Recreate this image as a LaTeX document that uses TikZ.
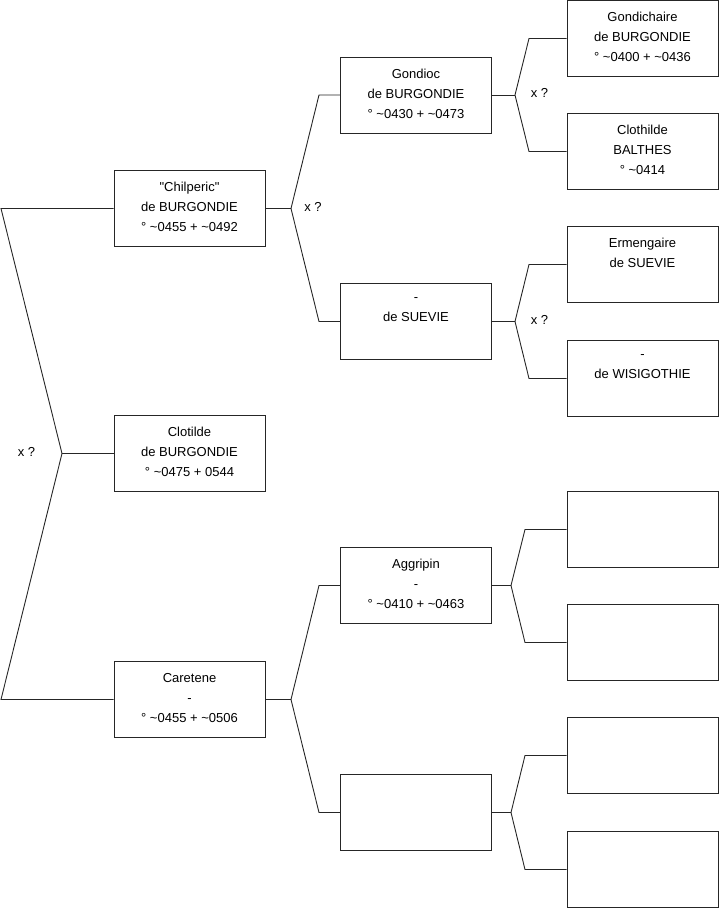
\documentclass[tikz,border=0pt]{standalone}
\usepackage{fontspec}
\setmainfont{Liberation Sans}[Ligatures=TeXOff]
\newcommand{\tl}{\textasciitilde}
\tikzset{
  person/.style={draw=black!85, line width=0.9pt, minimum width=151pt, minimum height=76pt,
    inner sep=0pt, align=center, font=\fontsize{13}{20}\selectfont, fill=white,
    execute at begin node={\rule{0pt}{10pt}}, execute at end node={\rule[-3pt]{0pt}{3pt}}},
  link/.style={draw=black!85, line width=0.9pt},
  marr/.style={inner sep=0pt, font=\fontsize{13}{15}\selectfont}
}
\begin{document}
\begin{tikzpicture}[x=1pt,y=-1pt]
\useasboundingbox (0,0) rectangle (719,908);
% column 1
\node[person] (chil) at (189.5,208.5) {"Chilperic"\\de BURGONDIE\\° \tl0455 + \tl0492};
\node[person] (clot) at (189.5,453.5) {Clotilde\\de BURGONDIE\\° \tl0475 + 0544};
\node[person] (care) at (189.5,699.5) {Caretene\\-\\° \tl0455 + \tl0506};
% column 2
\node[person] (gond) at (416,95) {Gondioc\\de BURGONDIE\\° \tl0430 + \tl0473};
\node[person] (suev) at (416,321.5) {-\\de SUEVIE\\};
\node[person] (aggr) at (416,585.5) {Aggripin\\-\\° \tl0410 + \tl0463};
\node[person] (emp2) at (416,812.5) {};
% column 3
\node[person] (gdch) at (642.5,38.5) {Gondichaire\\de BURGONDIE\\° \tl0400 + \tl0436};
\node[person] (clba) at (642.5,151.5) {Clothilde\\BALTHES\\° \tl0414};
\node[person] (erme) at (642.5,264.5) {Ermengaire\\de SUEVIE\\};
\node[person] (wisi) at (642.5,378.5) {-\\de WISIGOTHIE\\};
\node[person] (e1) at (642.5,529.5) {};
\node[person] (e2) at (642.5,642.5) {};
\node[person] (e3) at (642.5,755.5) {};
\node[person] (e4) at (642.5,869.5) {};
% coordinates
\coordinate (L1) at (1,208.5);
\coordinate (L2) at (1,699.5);
\coordinate (F0) at (62,453.5);
\coordinate (F1) at (291,208.5);
\coordinate (U1) at (319,95);
\coordinate (D1) at (319,321.5);
\coordinate (F2) at (291,699.5);
\coordinate (U2) at (319,585.5);
\coordinate (D2) at (319,812.5);
\coordinate (F3) at (515,95);
\coordinate (U3) at (529,38.5);
\coordinate (D3) at (529,151.5);
\coordinate (F4) at (515,321.5);
\coordinate (U4) at (529,264.5);
\coordinate (D4) at (529,378.5);
\coordinate (F5) at (511,585.5);
\coordinate (U5) at (525,529.5);
\coordinate (D5) at (525,642.5);
\coordinate (F6) at (511,812.5);
\coordinate (U6) at (525,755.5);
\coordinate (D6) at (525,869.5);
% connectors
\draw[link] (chil.west) -- (L1) -- (F0) -- (L2) -- (care.west);
\draw[link] (F0) -- (clot.west);
\draw[link] (chil.east) -- (F1);
\draw[link] (gond.west) -- (U1) -- (F1) -- (D1) -- (suev.west);
\draw[link] (care.east) -- (F2);
\draw[link] (aggr.west) -- (U2) -- (F2) -- (D2) -- (emp2.west);
\draw[link] (gond.east) -- (F3);
\draw[link] (gdch.west) -- (U3) -- (F3) -- (D3) -- (clba.west);
\draw[link] (suev.east) -- (F4);
\draw[link] (erme.west) -- (U4) -- (F4) -- (D4) -- (wisi.west);
\draw[link] (aggr.east) -- (F5);
\draw[link] (e1.west) -- (U5) -- (F5) -- (D5) -- (e2.west);
\draw[link] (emp2.east) -- (F6);
\draw[link] (e3.west) -- (U6) -- (F6) -- (D6) -- (e4.west);
% marriage labels
\node[marr] (m0) at (26.5,452) {x ?};
\node[marr] (m1) at (313,207) {x ?};
\node[marr] (m3) at (539.5,92.5) {x ?};
\node[marr] (m4) at (539.5,320) {x ?};
\end{tikzpicture}
\end{document}
